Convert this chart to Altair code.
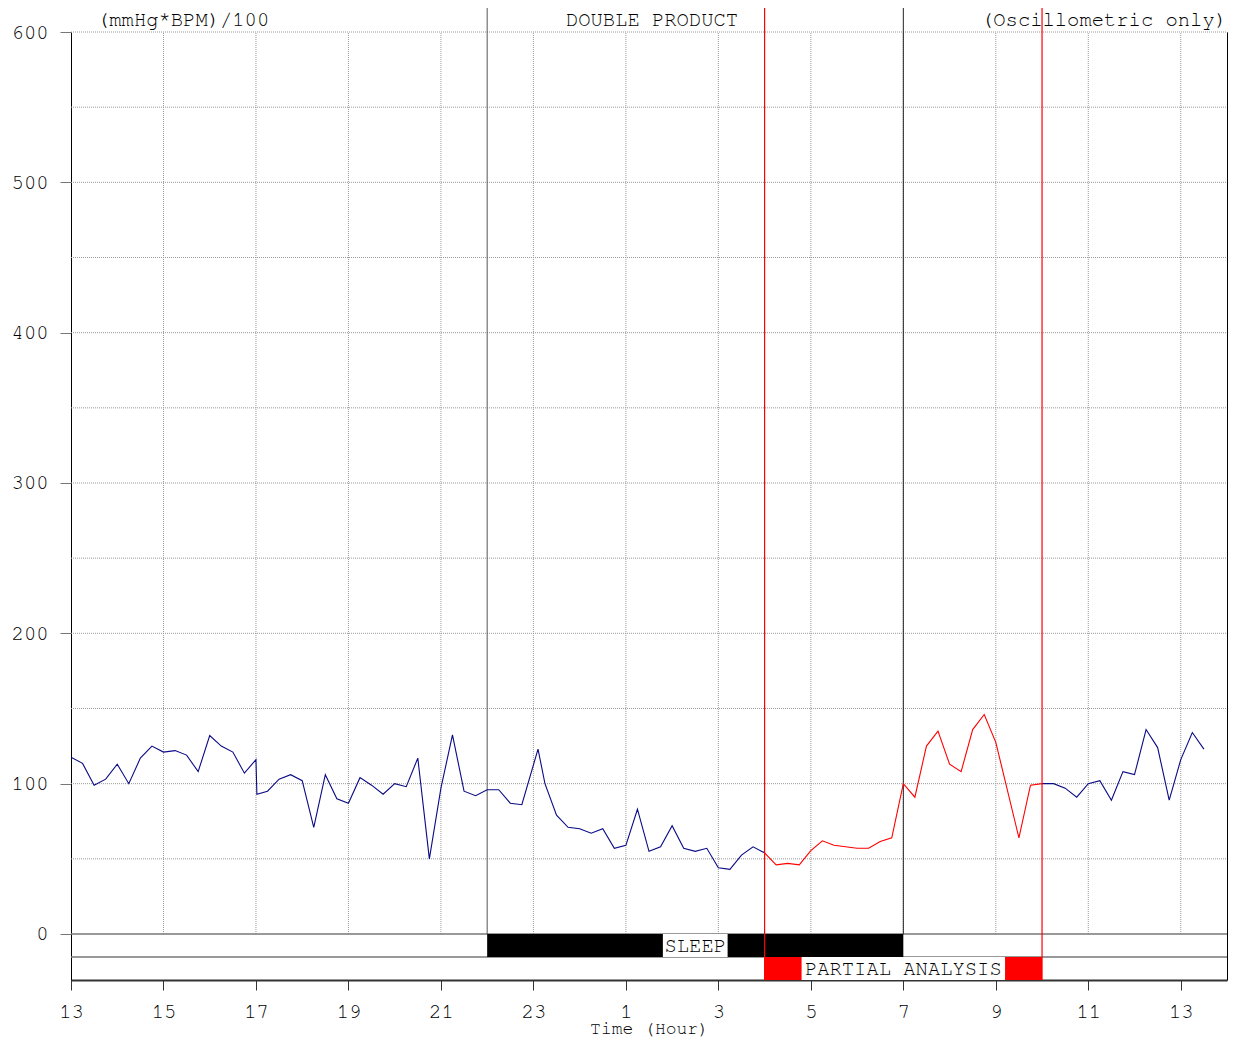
import altair as alt
import pandas as pd

FONT = "'Nimbus Mono PS', 'Nimbus Mono L', FreeMono, 'Courier New', 'Liberation Mono', monospace"
FS = 20.5

# ---- data -------------------------------------------------------------
# time in hours since midnight of day 1 (values > 24 are the next day)
blue1_t = [13.00, 13.25, 13.50, 13.75, 14.00, 14.25, 14.50, 14.75, 15.00, 15.25,
           15.50, 15.75, 16.00, 16.25, 16.50, 16.75, 17.00, 17.02, 17.25, 17.50,
           17.75, 18.00, 18.25, 18.50, 18.75, 19.00, 19.25, 19.50, 19.75, 20.00,
           20.25, 20.50, 20.75, 21.00, 21.25, 21.50, 21.75, 22.00, 22.25, 22.50,
           22.75, 23.10, 23.25, 23.50, 23.75, 24.00, 24.25, 24.50, 24.75, 25.00,
           25.25, 25.50, 25.75, 26.00, 26.25, 26.50, 26.75, 27.00, 27.25, 27.50,
           27.75, 28.00]
blue1_v = [117.5, 113.5, 99, 103, 113, 100, 117, 125, 121, 122,
           119, 108, 132, 125, 121, 107, 116, 93, 95, 103,
           106, 102, 71, 106, 90, 87, 104, 99, 93, 100,
           98, 117, 50, 97, 132.5, 95, 92, 96, 96, 87,
           86, 123, 100, 79, 71, 70, 67, 70, 57, 59,
           83, 55, 58, 72, 57, 55, 57, 44, 43, 52.5,
           58, 54]
red_t = [28.00, 28.25, 28.50, 28.75, 29.00, 29.25, 29.50, 29.75, 30.00, 30.25,
         30.50, 30.75, 31.00, 31.25, 31.50, 31.75, 32.00, 32.25, 32.50, 32.75,
         33.00, 33.50, 33.75, 34.00]
red_v = [54, 46, 47, 46, 55.5, 62, 59, 58, 57, 57,
         61.5, 64, 100, 91, 125, 135, 113, 108, 136, 146,
         127.5, 64, 99, 100]
blue2_t = [34.00, 34.25, 34.50, 34.75, 35.00, 35.25, 35.50, 35.75, 36.00, 36.25,
           36.50, 36.75, 37.00, 37.25, 37.50]
blue2_v = [100, 100, 97, 91, 100, 102, 89, 108, 106, 136,
           124, 89, 116, 134, 123]

x_domain = [13, 38]
y_domain = [-30.6, 600]
band_rows = [0, -15.3, -30.6]           # sleep row / partial-analysis row
x_ticks = list(range(13, 38, 2))
y_ticks = list(range(0, 601, 100))
y_grid = list(range(50, 601, 50))
x_grid = list(range(15, 38, 2))

sleep_span = [22, 31]
sleep_label_span = [25.8, 27.2]
partial_span = [28, 34]
partial_label_span = [28.8, 33.2]
sleep_lines = [22, 31]
sleep_line_colors = ["#555555", "#222222"]
partial_lines = [28, 34]

# ---- tables -------------------------------------------------------------
series = pd.concat([
    pd.DataFrame({"t": blue1_t, "v": blue1_v, "seg": "a", "col": "#0a0a85"}),
    pd.DataFrame({"t": red_t, "v": red_v, "seg": "b", "col": "#ff0000"}),
    pd.DataFrame({"t": blue2_t, "v": blue2_v, "seg": "c", "col": "#0a0a85"}),
], ignore_index=True)

xs = alt.Scale(domain=x_domain, nice=False, zero=False)
ys = alt.Scale(domain=y_domain, nice=False, zero=False)

x_axis = alt.Axis(values=x_ticks, grid=False, tickSize=10, tickColor="#333333",
                  domainColor="#333333", domainWidth=2,
                  labelExpr="datum.value > 24 ? datum.value - 24 : datum.value",
                  labelFont=FONT, labelFontSize=FS, labelColor="black",
                  labelPadding=11, labelFlush=False,
                  title="Time (Hour)", titleFont=FONT, titleFontSize=18,
                  titleFontWeight="normal", titleColor="black", titlePadding=-2)
y_axis = alt.Axis(values=y_ticks, grid=False, tickSize=11, tickColor="#777777",
                  domainColor="black", labelFont=FONT, labelFontSize=FS,
                  labelColor="black", labelPadding=12, title=None)

base_line = alt.Chart(series).mark_line(strokeWidth=1.1).encode(
    x=alt.X("t:Q", scale=xs, axis=x_axis),
    y=alt.Y("v:Q", scale=ys, axis=y_axis),
    detail="seg:N",
    color=alt.Color("col:N", scale=None),
)

hgrid = alt.Chart(pd.DataFrame({"y": y_grid, "x1": x_domain[0], "x2": x_domain[1]})).mark_rule(
    color="#999999", strokeDash=[1, 1], strokeWidth=1).encode(
    x=alt.X("x1:Q", scale=xs), x2="x2:Q", y=alt.Y("y:Q", scale=ys))

vgrid = alt.Chart(pd.DataFrame({"x": x_grid, "y1": 0, "y2": y_domain[1]})).mark_rule(
    color="#999999", strokeDash=[1, 1], strokeWidth=1).encode(
    x=alt.X("x:Q", scale=xs), y=alt.Y("y1:Q", scale=ys), y2="y2:Q")

band_lines = alt.Chart(pd.DataFrame({"y": band_rows[:2], "x1": x_domain[0], "x2": x_domain[1]})).mark_rule(
    color="#777777", strokeWidth=1.3).encode(
    x=alt.X("x1:Q", scale=xs), x2="x2:Q", y=alt.Y("y:Q", scale=ys))

rects = pd.DataFrame({
    "x1": [sleep_span[0], sleep_label_span[0], partial_span[0], partial_label_span[0]],
    "x2": [sleep_span[1], sleep_label_span[1], partial_span[1], partial_label_span[1]],
    "y1": [band_rows[0], band_rows[0], band_rows[1], band_rows[1]],
    "y2": [band_rows[1], band_rows[1], band_rows[2], band_rows[2]],
    "fill": ["black", "white", "#ff0000", "white"],
    "order": [0, 1, 2, 3],
})
band_rects = alt.Chart(rects).mark_rect().encode(
    x=alt.X("x1:Q", scale=xs), x2="x2:Q",
    y=alt.Y("y1:Q", scale=ys), y2="y2:Q",
    color=alt.Color("fill:N", scale=None), order="order:Q")

band_text = alt.Chart(pd.DataFrame({
    "x": [sum(sleep_label_span) / 2, sum(partial_label_span) / 2],
    "y": [(band_rows[0] + band_rows[1]) / 2, (band_rows[1] + band_rows[2]) / 2],
    "label": ["SLEEP", "PARTIAL ANALYSIS"],
})).mark_text(font=FONT, fontSize=FS, color="black", baseline="middle", align="center", dy=1).encode(
    x=alt.X("x:Q", scale=xs), y=alt.Y("y:Q", scale=ys), text="label:N")

sleep_rules = alt.Chart(pd.DataFrame({"x": sleep_lines, "y": 0, "c": sleep_line_colors})).mark_rule(
    strokeWidth=1).encode(
    x=alt.X("x:Q", scale=xs), y=alt.Y("y:Q", scale=ys), y2=alt.value(-24),
    color=alt.Color("c:N", scale=None))

partial_rules = alt.Chart(pd.DataFrame({"x": partial_lines, "y": band_rows[2]})).mark_rule(
    strokeWidth=1.2, color="#ff0000", stroke="#ff0000").encode(
    x=alt.X("x:Q", scale=xs), y=alt.Y("y:Q", scale=ys), y2=alt.value(-24))


def top_text(label, xpix, align):
    return alt.Chart(pd.DataFrame({"label": [label]})).mark_text(
        font=FONT, fontSize=FS, color="black", align=align, baseline="middle").encode(
        x=alt.value(xpix), y=alt.value(-12), text="label:N")


W, H = 1156, 948
titles = [
    top_text("(mmHg*BPM)/100", 26, "left"),
    top_text("DOUBLE PRODUCT", 581, "center"),
    top_text("(Oscillometric only)", W, "right"),
]

main = alt.layer(hgrid, vgrid, band_lines, band_rects, band_text,
                 sleep_rules, base_line, partial_rules, *titles)

right_axis = alt.Chart(pd.DataFrame({"v": y_ticks})).mark_tick(opacity=0).encode(
    y=alt.Y("v:Q", scale=ys,
            axis=alt.Axis(orient="right", values=y_ticks, labels=False, grid=False,
                          tickSize=3, tickColor="#555555", domainColor="black", title=None)))

chart = alt.layer(main, right_axis).resolve_scale(y="independent").properties(
    width=W, height=H,
    padding={"left": 63, "top": 24, "right": 1, "bottom": 58},
    autosize=alt.AutoSizeParams(type="none"),
    background="white",
).configure_view(stroke=None)

chart.save("out.html", embed_options={"renderer": "svg", "actions": False})
